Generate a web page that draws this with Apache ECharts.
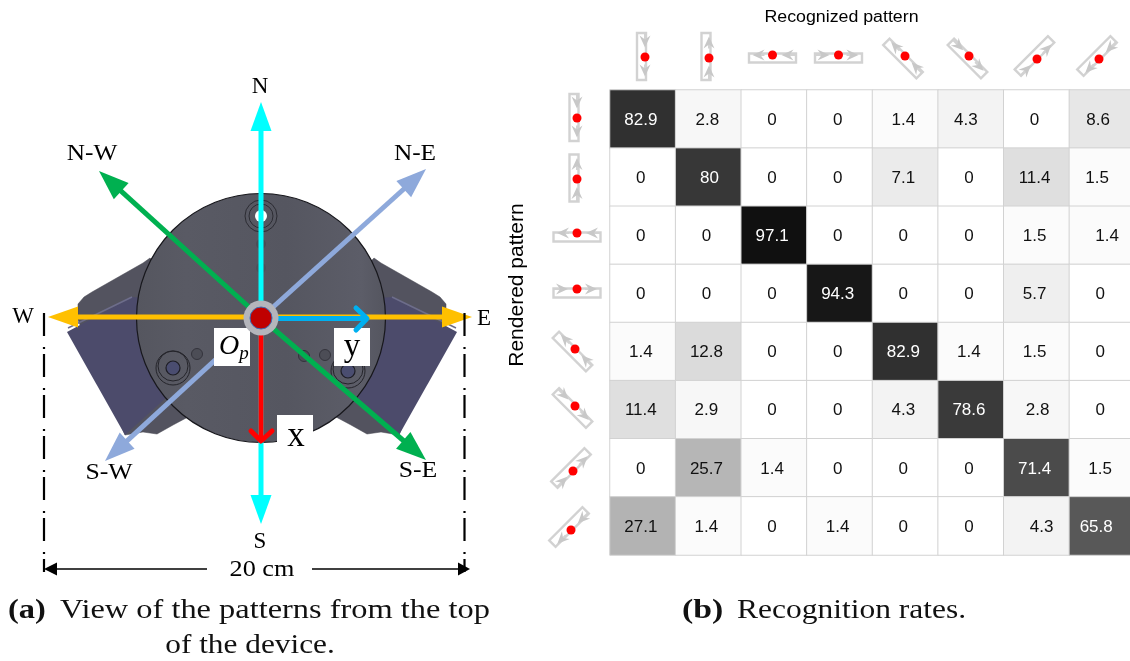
<!DOCTYPE html>
<html><head><meta charset="utf-8">
<style>html,body{margin:0;padding:0;background:#fff}#c{width:1130px;height:661px}</style>
<script src="https://cdn.jsdelivr.net/npm/echarts@6/dist/echarts.min.js"></script>
</head><body><div id="c"></div>
<script>
// ---------- recognition rates (rows: rendered, columns: recognized) ----------
const patternNames = ['P1','P2','P3','P4','P5','P6','P7','P8'];
const row1 = [82.9, 2.8, 0, 0, 1.4, 4.3, 0, 8.6];
const row2 = [0, 80, 0, 0, 7.1, 0, 11.4, 1.5];
const row3 = [0, 0, 97.1, 0, 0, 0, 1.5, 1.4];
const row4 = [0, 0, 0, 94.3, 0, 0, 5.7, 0];
const row5 = [1.4, 12.8, 0, 0, 82.9, 1.4, 1.5, 0];
const row6 = [11.4, 2.9, 0, 0, 4.3, 78.6, 2.8, 0];
const row7 = [0, 25.7, 1.4, 0, 0, 0, 71.4, 1.5];
const row8 = [27.1, 1.4, 0, 1.4, 0, 0, 4.3, 65.8];
const rates = [row1,row2,row3,row4,row5,row6,row7,row8];
// small horizontal shifts of individual cell numbers in the reference (col,row)
const labelNudges = {'1,0':1,'1,1':3,'5,0':-3,'6,5':3,'6,7':7,'7,0':-2,'7,1':-3,'7,2':7,'7,7':-4};

// ---------- diagram (a), in the diagram's own units ----------
const centre = [261, 318];
const compassTips = [
  {name:'N',  tip:[261,102], color:'#00FFFF'},
  {name:'S',  tip:[261,524], color:'#00FFFF'},
  {name:'N-E',tip:[426,169], color:'#8EA9DB'},
  {name:'S-W',tip:[105,461], color:'#8EA9DB'},
  {name:'N-W',tip:[99,171],  color:'#00B050'},
  {name:'S-E',tip:[426,460], color:'#00B050'},
  {name:'W',  tip:[48,317],  color:'#FFC000'},
  {name:'E',  tip:[472,317], color:'#FFC000'}
];
const bodyRadius = 124.5;
const shellLeft = [[78,320],[78,304],[84,297],[92,292],[143,263],[150,258],[190,300],[190,400],[188,417],[173,425],[157,434],[143,432],[125,435]];
const plateLeft = [[67,332],[125,435],[168,396],[170,300],[132,297]];
const plateEdgeLeft = [[68,328],[132,297]];
const boltPositions = [[173,368],[348,371]];
const screwPositions = [[197,354],[304,356],[325,355]];
const ticksX = [44,464.5];
// ---------- small pattern glyphs: rectangle centre, dot, arrow direction ----------
const topGlyphs = [
  {c:[641.5,56.5],d:[645,57],a:90},{c:[706,56.5],d:[709,58],a:-90},
  {c:[772.5,58],d:[772.5,55],a:180},{c:[838.5,58],d:[838.5,55],a:0},
  {c:[903,58.5],d:[905,56],a:-135},{c:[967.5,58.5],d:[969,56],a:45},
  {c:[1034.5,56],d:[1037,59],a:-45},{c:[1097,56],d:[1099,59],a:135}
];
const sideGlyphs = [
  {c:[574,117.5],d:[577,118],a:90},{c:[574,178],d:[577,179],a:-90},
  {c:[577,237],d:[577,233],a:180},{c:[577,293],d:[577,289],a:0},
  {c:[572.5,351.5],d:[575,349],a:-135},{c:[572.5,408],d:[575,406],a:45},
  {c:[571,468],d:[573,471],a:-45},{c:[569,527],d:[571,530],a:135}
];

const cellData = [];
rates.forEach((r,y)=>r.forEach((v,x)=>{
  const dx = -2 + (labelNudges[x+','+y]||0);
  cellData.push({value:[x,y,v],label:{color:v>50?'#ffffff':'#111111',offset:[dx,1]}});
}));

function poly(api,pts,style){return {type:'polygon',shape:{points:pts.map(p=>api.coord(p))},style};}
function line(api,pts,stroke,w,extra){return {type:'polyline',shape:{points:pts.map(p=>api.coord(p))},style:Object.assign({stroke,lineWidth:w,fill:null},extra||{})};}
function circ(api,p,r,style){const c=api.coord(p);return {type:'circle',shape:{cx:c[0],cy:c[1],r},style};}
const mir = p=>[524-p[0],p[1]];

function arrowHead(api,tip,from,len,hw,color){
  const dx=tip[0]-from[0],dy=tip[1]-from[1],L=Math.hypot(dx,dy),ux=dx/L,uy=dy/L;
  const bx=tip[0]-ux*len,by=tip[1]-uy*len;
  return poly(api,[tip,[bx-uy*hw,by+ux*hw],[bx+uy*hw,by-ux*hw]],{fill:color});
}
function renderDevice(params,api){
  const ch=[];
  [p=>p,mir].forEach(f=>{
    ch.push(poly(api,shellLeft.map(f),{fill:'#53535f',stroke:'#45454f',lineWidth:.5}));
    ch.push(poly(api,plateLeft.map(f),{fill:'#4c4b6b'}));
    ch.push(line(api,plateEdgeLeft.map(f),'#6d6d8b',1.5));
  });
  ch.push(circ(api,centre,bodyRadius,{
    fill:{type:'linear',x:0,y:0,x2:1,y2:0,colorStops:[{offset:0,color:'#55565f'},{offset:.2,color:'#595a64'},{offset:.6,color:'#555660'},{offset:.9,color:'#5c5d68'},{offset:1,color:'#54555f'}]},
    stroke:'#17171c',lineWidth:1.2}));
  ch.push(circ(api,[261,216],16,{fill:'none',stroke:'#2c2c33',lineWidth:1}));
  ch.push(circ(api,[261,216],12,{fill:'none',stroke:'#2c2c33',lineWidth:1}));
  ch.push(circ(api,[261,216],6,{fill:'#ffffff'}));
  ch.push(circ(api,[261,244],5,{fill:'#4b4c55'}));
  ch.push(circ(api,[261,268],5,{fill:'#4f5059'}));
  boltPositions.forEach(p=>{
    ch.push(circ(api,p,17,{fill:'none',stroke:'#24242a',lineWidth:1}));
    ch.push(circ(api,[p[0],p[1]-2],15,{fill:'none',stroke:'#24242a',lineWidth:1}));
    ch.push(circ(api,p,7,{fill:'#4a4d70',stroke:'#1d1d24',lineWidth:1.2}));
  });
  screwPositions.forEach(p=>ch.push(circ(api,p,5.5,{fill:'#4c4d56',stroke:'#34343c',lineWidth:1})));
  return {type:'group',children:ch};
}
function renderArrow(params,api){
  const a=compassTips[params.dataIndex];
  const horiz=a.name==='W'||a.name==='E';
  const from=horiz?[centre[0],a.tip[1]]:centre;
  const len=horiz?30:(a.name.length===1?29:30), hw=horiz?10.5:(a.name.length===1?10.5:11);
  const dx=a.tip[0]-from[0],dy=a.tip[1]-from[1],L=Math.hypot(dx,dy);
  const end=[a.tip[0]-dx/L*(len-2),a.tip[1]-dy/L*(len-2)];
  return {type:'group',children:[line(api,[from,end],a.color,5),arrowHead(api,a.tip,from,len,hw,a.color)]};
}
function renderOverlay(params,api){
  const ch=[];
  [[214,328,36,38],[334,328,36,38],[277,415,36,37]].forEach(b=>ch.push(poly(api,[[b[0],b[1]],[b[0]+b[2],b[1]],[b[0]+b[2],b[1]+b[3]],[b[0],b[1]+b[3]]],{fill:'#fff'})));
  ch.push(line(api,[[270,318.5],[367,318.5]],'#00B0F0',5));
  ch.push(line(api,[[356,308],[367,318.5],[356,330]],'#00B0F0',5,{lineCap:'round',lineJoin:'round'}));
  ch.push(line(api,[[261,322],[261,441]],'#FF0000',5));
  ch.push(line(api,[[251,431],[261,441],[272,431]],'#FF0000',5,{lineCap:'round',lineJoin:'round'}));
  ch.push(circ(api,centre,17.5,{fill:'#b4b5bb'}));
  ch.push(circ(api,centre,11,{fill:'#C00000',stroke:'#3F6FB5',lineWidth:1}));
  ticksX.forEach(x=>ch.push(line(api,[[x,313],[x,572]],'#000',2.2,{lineDash:[23,11,2,5]})));
  ch.push(line(api,[[50,569],[207,569]],'#000',1.6));
  ch.push(line(api,[[312,569],[462,569]],'#000',1.6));
  ch.push(poly(api,[[44,569],[57,562.5],[57,575.5]],{fill:'#000'}));
  ch.push(poly(api,[[470,569],[458,562.5],[458,575.5]],{fill:'#000'}));
  return {type:'group',children:ch};
}
function renderGlyph(list){return function(params,api){
  const g=list[params.dataIndex], t=g.a*Math.PI/180, ux=Math.cos(t), uy=Math.sin(t), vx=-uy, vy=ux;
  const P=(u,v)=>[g.c[0]+ux*u+vx*v,g.c[1]+uy*u+vy*v];
  const off=(g.d[0]-g.c[0])*vx+(g.d[1]-g.c[1])*vy;
  const c='#d2d2d2', rect=[P(-23.5,-4.5),P(23.5,-4.5),P(23.5,4.5),P(-23.5,4.5)];
  const ch=[poly(api,rect,{fill:'none',stroke:c,lineWidth:2.4})];
  [[-23,-9],[8,20]].forEach(s=>{
    ch.push(line(api,[P(s[0],off),P(s[1]-4,off)],c,2));
    ch.push(poly(api,[P(s[1],off),P(s[1]-12,off-5.5),P(s[1]-8,off),P(s[1]-12,off+5.5)],{fill:'#c8c8c8'}));
  });
  ch.push(circ(api,g.d,4.5,{fill:'#FF0000'}));
  return {type:'group',children:ch};
};}
const idx = a=>a.map((_,i)=>[i]);

const serif='"Liberation Serif",serif', sans='"Liberation Sans",Arial,sans-serif';
function T(text,x,y,size,opts){
  opts=opts||{};
  return {type:'text',x,y,z:100,scaleX:opts.sx||1,rotation:opts.rot||0,style:{text,fill:opts.fill||'#000',
    font:(opts.style||'')+' '+size+'px '+(opts.family||serif),textAlign:opts.align||'center',textVerticalAlign:'middle'}};
}
const cap='#111';
const texts=[
  T('N',260,87,23),T('N-W',92,154,23,{sx:1.1}),T('N-E',415,154,23,{sx:1.1}),T('W',23,317,23),T('E',484,319,23),
  T('S-W',109,473,23,{sx:1.12}),T('S-E',418,471,23,{sx:1.12}),T('S',260,542,23),T('20 cm',262,570,23,{sx:1.14}),
  T('O',229,347,28,{style:'italic'}),T('p',244,354,19,{style:'italic'}),
  T('y',352,347,33),T('x',296,437,35),
  T('(a)',8,611,27,{align:'left',style:'bold',fill:cap,sx:1.2}),
  T('View of the patterns from the top',60,611,27,{align:'left',sx:1.2,fill:cap}),
  T('of the device.',250,646,27,{sx:1.16,fill:cap}),
  T('(b)',682,611,27,{align:'left',style:'bold',fill:cap,sx:1.25}),
  T('Recognition rates.',737,611,27,{align:'left',sx:1.166,fill:cap}),
  T('Recognized pattern',841.5,18,16,{family:sans,sx:1.11}),
  T('Rendered pattern',517,285,21,{family:sans,rot:Math.PI/2})
];

const chart=echarts.init(document.getElementById('c'),null,{renderer:'canvas'});
chart.setOption({
  animation:false,
  backgroundColor:'#fff',
  grid:[{left:0,top:0,width:1130,height:661},{left:610,top:90,width:525,height:465,outerBoundsMode:'none'}],
  xAxis:[{type:'value',min:0,max:1130,show:false,gridIndex:0},
         {type:'category',data:patternNames,show:false,gridIndex:1}],
  yAxis:[{type:'value',min:0,max:661,inverse:true,show:false,gridIndex:0},
         {type:'category',data:patternNames,inverse:true,show:false,gridIndex:1}],
  visualMap:{show:false,seriesIndex:0,dimension:2,min:0,max:100,inRange:{color:['#ffffff','#b8b8b8','#7e7e7e','#424242','#0a0a0a']}},
  series:[
    {type:'heatmap',xAxisIndex:1,yAxisIndex:1,data:cellData,z:3,
     itemStyle:{borderColor:'#d2d2d2',borderWidth:1},
     label:{show:true,fontSize:17,fontFamily:sans,formatter:p=>String(p.value[2])}},
    {type:'custom',coordinateSystem:'cartesian2d',xAxisIndex:0,yAxisIndex:0,data:[[0]],renderItem:renderDevice,clip:false,z:1,silent:true},
    {type:'custom',coordinateSystem:'cartesian2d',xAxisIndex:0,yAxisIndex:0,data:idx(compassTips),renderItem:renderArrow,clip:false,z:2,silent:true},
    {type:'custom',coordinateSystem:'cartesian2d',xAxisIndex:0,yAxisIndex:0,data:[[0]],renderItem:renderOverlay,clip:false,z:4,silent:true},
    {type:'custom',coordinateSystem:'cartesian2d',xAxisIndex:0,yAxisIndex:0,data:idx(topGlyphs),renderItem:renderGlyph(topGlyphs),clip:false,z:4,silent:true},
    {type:'custom',coordinateSystem:'cartesian2d',xAxisIndex:0,yAxisIndex:0,data:idx(sideGlyphs),renderItem:renderGlyph(sideGlyphs),clip:false,z:4,silent:true}
  ],
  graphic:{elements:texts}
});
</script></body></html>
